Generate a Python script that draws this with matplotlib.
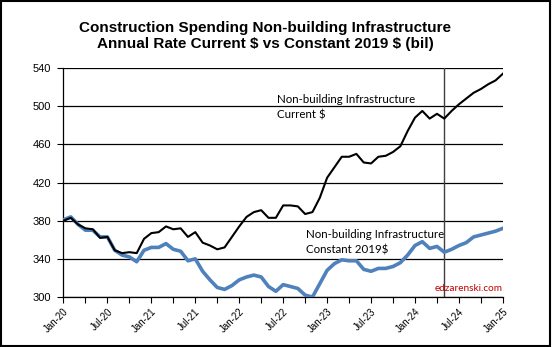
import matplotlib.pyplot as plt
from matplotlib.patches import Rectangle

# monthly values, Jan-20 .. Jan-25 (bil $)
current = [380, 383, 376, 372, 371, 362, 363, 349, 346, 347,
           346, 361, 367, 368, 374, 371, 372, 363, 368, 357,
           354, 350, 352, 363, 374, 384, 389, 391, 383, 383,
           396, 396, 395, 387, 389, 404, 425, 436, 447, 447,
           450, 441, 440, 447, 448, 452, 458, 474, 488, 495,
           487, 492, 487, 495, 502, 508, 514, 518, 523, 527, 534]
constant = [381, 384, 376, 370, 370, 363, 363, 349, 344, 342,
            337, 349, 352, 352, 356, 350, 348, 338, 340, 327,
            318, 310, 308, 312, 318, 321, 323, 321, 311, 306,
            313, 311, 309, 302, 300, 314, 328, 335, 339, 338,
            338, 329, 327, 330, 330, 332, 336, 344, 354, 358,
            351, 353, 347, 350, 354, 357, 363, 365, 367, 369, 372]
tick_labels = ["Jan-20", "Jul-20", "Jan-21", "Jul-21", "Jan-22", "Jul-22",
               "Jan-23", "Jul-23", "Jan-24", "Jul-24", "Jan-25"]
y_ticks = [300, 340, 380, 420, 460, 500, 540]
marker_month = 52  # May-24

months = list(range(len(current)))

fig = plt.figure(figsize=(5.52, 3.47), dpi=100)
ax = fig.add_axes([0.115, 0.144, 0.796, 0.660])

for v in y_ticks:
    ax.axhline(v, color="black", lw=0.9, zorder=1)

ax.plot(months, constant, color="#4F81BD", lw=2.6, zorder=3)
ax.plot(months, current, color="black", lw=1.5, zorder=3)
ax.axvline(marker_month, color="#404040", lw=1.0, zorder=2)

ax.set_xlim(0, 60)
ax.set_ylim(300, 540)
ax.set_yticks(y_ticks)
ax.set_yticklabels([str(v) for v in y_ticks], fontsize=8, family="Liberation Sans")

ax.set_xticks(range(0, 61, 3))
xl = []
for i in range(0, 61, 3):
    xl.append(tick_labels[i // 6] if i % 6 == 0 else "")
ax.set_xticklabels(xl, rotation=45, ha="right", rotation_mode="anchor",
                   fontsize=7, family="Liberation Sans")
ax.tick_params(axis="both", length=4, width=0.8)
ax.tick_params(axis="y", pad=5)
ax.tick_params(axis="x", pad=3)

for s in ["top", "right"]:
    ax.spines[s].set_visible(False)
ax.spines["left"].set_linewidth(0.9)
ax.spines["bottom"].set_linewidth(0.9)

ax.text(29.2, 499, "Non-building Infrastructure\nCurrent \\$", fontsize=8.3,
        family="Lato", va="center", ha="left", linespacing=1.55)
ax.text(33.1, 357.5, "Non-building Infrastructure\nConstant 2019\\$", fontsize=8.3,
        family="Lato", va="center", ha="left", linespacing=1.55)
ax.text(59.9, 309.4, "edzarenski.com", color="#C00000", fontsize=7.2,
        family="Lato", ha="right", va="center")

fig.text(0.48, 0.896, "Construction Spending Non-building Infrastructure\n"
         "Annual Rate Current \\$ vs Constant 2019 \\$ (bil)",
         ha="center", va="center", fontsize=11, fontweight="bold",
         family="Liberation Sans", linespacing=1.2)

fig.patches.append(Rectangle((0.002, 0.003), 0.995, 0.993, transform=fig.transFigure,
                             fill=False, edgecolor="black", lw=1.5))

fig.savefig("out.png", dpi=100)
